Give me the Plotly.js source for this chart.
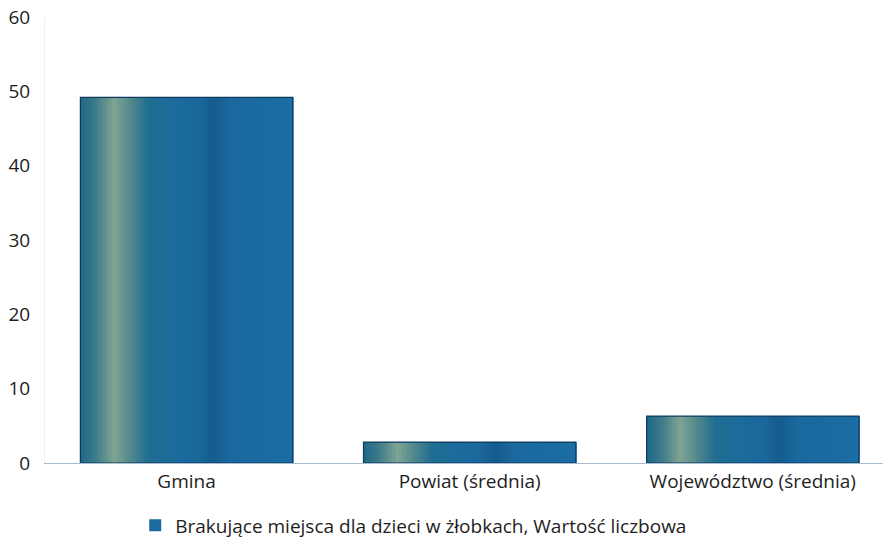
<!DOCTYPE html>
<html>
<head>
<meta charset="utf-8">
<script src="https://cdn.plot.ly/plotly-3.0.1.min.js"></script>
<style>
  html, body { margin: 0; padding: 0; background: #fff; }
  #chart { width: 883px; height: 540px; }
</style>
</head>
<body>
<div id="chart"></div>
<script>
// values
const categories = ["Gmina", "Powiat (średnia)", "Województwo (średnia)"];
const values = [49.2, 2.8, 6.3];
const seriesName = "Brakujące miejsca dla dzieci w żłobkach, Wartość liczbowa";
const yTicks = [0, 10, 20, 30, 40, 50, 60];

// horizontal shading across each bar: [position, r, g, b]
const shadeStops = [
  [0.00, 30, 105, 135],
  [0.07, 60, 122, 138],
  [0.16, 128, 164, 146],
  [0.24, 80, 136, 140],
  [0.32, 32, 110, 146],
  [0.48, 26, 106, 158],
  [0.56, 26, 103, 156],
  [0.62, 21, 92, 140],
  [0.71, 26, 104, 158],
  [1.00, 27, 109, 164]
];

function shadeAt(t) {
  for (let i = 1; i < shadeStops.length; i++) {
    const a = shadeStops[i - 1], b = shadeStops[i];
    if (t <= b[0]) {
      const f = (t - a[0]) / (b[0] - a[0]);
      const c = [1, 2, 3].map((k) => Math.round(a[k] + (b[k] - a[k]) * f));
      return "rgb(" + c.join(",") + ")";
    }
  }
  return "rgb(27,109,164)";
}

const barWidth = 0.75;
const nStripes = 60;

let traces = [];

// base bar, also gives the legend entry
traces.push({
  type: "bar",
  x: categories,
  y: values,
  name: seriesName,
  width: barWidth,
  marker: { color: "#1b6aa0" },
  hoverinfo: "x+y",
});

// stripes to fake the gradient
for (let i = 0; i < nStripes; i++) {
  const w = barWidth / nStripes;
  traces.push({
    type: "bar",
    x: categories,
    y: values,
    width: w + 0.003,
    offset: -barWidth / 2 + i * w,
    marker: { color: shadeAt((i + 0.5) / nStripes), line: { width: 0 } },
    showlegend: false,
    hoverinfo: "skip",
  });
}

// dark outline on top
traces.push({
  type: "bar",
  x: categories,
  y: values,
  width: barWidth,
  marker: { color: "rgba(0,0,0,0)", line: { color: "#0e3a5c", width: 1.2 } },
  showlegend: false,
  hoverinfo: "skip",
});

let layout = {
  width: 883,
  height: 540,
  margin: { l: 45, r: 0, t: 17, b: 77, autoexpand: false },
  barmode: "overlay",
  paper_bgcolor: "#ffffff",
  plot_bgcolor: "#ffffff",
  font: { family: "Open Sans, sans-serif", color: "#1e1e1e", size: 19 },
  xaxis: {
    type: "category",
    range: [-0.5, 2.46],
    showgrid: false,
    showline: true,
    linecolor: "#a9bccf",
    linewidth: 1,
    ticks: "",
    tickfont: { size: 19 },
    ticklabelstandoff: 1,
  },
  yaxis: {
    range: [0, 60],
    tickvals: yTicks,
    showgrid: false,
    zeroline: false,
    showline: true,
    linecolor: "#eef2f6",
    ticks: "",
    tickfont: { size: 19 },
    ticklabelstandoff: 10,
  },
  showlegend: true,
  legend: {
    orientation: "h",
    x: 0.44,
    xanchor: "center",
    y: -0.14,
    yanchor: "middle",
    font: { size: 19 },
    itemwidth: 30,
  },
};

Plotly.newPlot("chart", traces, layout, { displayModeBar: false });
</script>
</body>
</html>
